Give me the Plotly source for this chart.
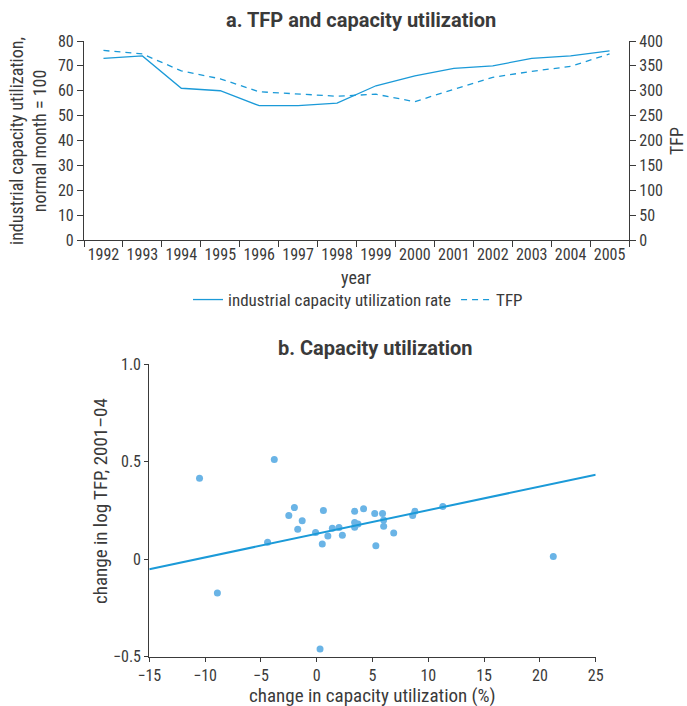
import plotly.graph_objects as go

# ---- panel a: yearly series ----
years = ["1992", "1993", "1994", "1995", "1996", "1997", "1998",
         "1999", "2000", "2001", "2002", "2003", "2004", "2005"]
capacity_util = [73, 74, 61, 60, 54, 54, 55, 62, 66, 69, 70, 73, 74, 76]
tfp = [381, 374, 340, 324, 298, 293, 289, 293, 278, 303, 327, 339, 349, 374]

# ---- panel b: cross-section scatter ----
cu_change = [-10.5, -8.9, -3.8, -4.4, -2.5, -2.0, -1.7, -1.3, -0.1, 0.3, 0.5,
             0.6, 1.0, 1.4, 2.0, 2.3, 3.4, 3.4, 3.4, 3.7, 4.2, 5.2, 5.3, 5.9,
             6.0, 6.0, 6.9, 8.6, 8.8, 11.3, 21.2]
tfp_change = [0.415, -0.173, 0.511, 0.087, 0.223, 0.264, 0.153, 0.197, 0.136,
              -0.46, 0.078, 0.249, 0.118, 0.158, 0.162, 0.123, 0.245, 0.188,
              0.164, 0.180, 0.258, 0.234, 0.068, 0.234, 0.200, 0.169, 0.134,
              0.224, 0.245, 0.270, 0.014]
fit_intercept = 0.130
fit_slope = 0.0121
fit_x = [-15, 25]

b_yticks = [-0.5, 0, 0.5, 1.0]
b_yticklabels = ["\u22120.5", "0", "0.5", "1.0"]

W, H = 687, 706
FONT = "Liberation Sans Narrow, Roboto Condensed, DejaVu Sans Condensed, Arial Narrow, sans-serif"
TITLE_FONT = "Roboto, Liberation Sans, sans-serif"
TXT = "#3a3a3a"
AX = "#3a3a3a"
LINE_BLUE = "#1b9ad8"
DOT_BLUE = "#6ab4e6"


def px_x(p):
    return p / W


def px_y(p):
    return 1 - p / H


fig = go.Figure()

fig.add_trace(go.Scatter(
    x=years, y=capacity_util, mode="lines", name="industrial capacity utilization rate",
    line=dict(color=LINE_BLUE, width=1.3), xaxis="x", yaxis="y"))
fig.add_trace(go.Scatter(
    x=years, y=tfp, mode="lines", name="TFP",
    line=dict(color=LINE_BLUE, width=1.3, dash="6px,5px"), xaxis="x", yaxis="y2"))

fig.add_trace(go.Scatter(
    x=cu_change, y=tfp_change, mode="markers", showlegend=False,
    marker=dict(color=DOT_BLUE, size=7), xaxis="x3", yaxis="y3"))
fig.add_trace(go.Scatter(
    x=fit_x, y=[fit_intercept + fit_slope * v for v in fit_x], mode="lines",
    showlegend=False, line=dict(color=LINE_BLUE, width=2), xaxis="x3", yaxis="y3"))


def axis_style(ticklen):
    return dict(showgrid=False, zeroline=False, showline=True, linecolor=AX,
                linewidth=1.2, ticks="outside", tickcolor=AX, ticklen=ticklen,
                automargin=False, tickangle=0,
                tickfont=dict(family=FONT, size=16, color=TXT))


fig.update_layout(
    width=W, height=H, margin=dict(l=0, r=0, t=0, b=0),
    paper_bgcolor="white", plot_bgcolor="white",
    font=dict(family=FONT, color=TXT),
    xaxis=dict(domain=[px_x(84), px_x(629)], anchor="y", type="category",
               tickson="boundaries", range=[-0.5, 13.5], **axis_style(6)),
    yaxis=dict(domain=[px_y(240), px_y(41)], anchor="x", range=[0, 80],
               dtick=10, **axis_style(6)),
    yaxis2=dict(domain=[px_y(240), px_y(41)], anchor="x", overlaying="y",
                side="right", range=[0, 400], dtick=50, **axis_style(6)),
    xaxis3=dict(domain=[px_x(149.3), px_x(595.7)], anchor="y3", range=[-15, 25],
                dtick=5, **axis_style(4)),
    yaxis3=dict(domain=[px_y(656.7), px_y(364)], anchor="x3", range=[-0.5, 1.0],
                tickvals=b_yticks, ticktext=b_yticklabels, **axis_style(4)),
    legend=dict(orientation="h", x=px_x(358), xanchor="center", y=px_y(300),
                yanchor="middle", font=dict(family=FONT, size=17, color=TXT),
                itemwidth=30, bgcolor="rgba(0,0,0,0)"),
    showlegend=True,
)

annotations = [
    dict(text="<b>a. TFP and capacity utilization</b>", x=px_x(361), y=px_y(20),
         font=dict(size=20, family=TITLE_FONT)),
    dict(text="<b>b. Capacity utilization</b>", x=px_x(375), y=px_y(348),
         font=dict(size=20, family=TITLE_FONT)),
    dict(text="industrial capacity utilization,<br>normal month = 100", x=px_x(28),
         y=px_y(141), textangle=-90, font=dict(size=18)),
    dict(text="TFP", x=px_x(676), y=px_y(141), textangle=-90, font=dict(size=18)),
    dict(text="year", x=px_x(356), y=px_y(277), font=dict(size=18)),
    dict(text="change in log TFP, 2001\u201304", x=px_x(100), y=px_y(501),
         textangle=-90, font=dict(size=19)),
    dict(text="change in capacity utilization (%)", x=px_x(372), y=px_y(695),
         font=dict(size=19)),
]
for a in annotations:
    a.update(xref="paper", yref="paper", showarrow=False, xanchor="center",
             yanchor="middle")
    a["font"].update(color=TXT)
    a["font"].setdefault("family", FONT)
fig.update_layout(annotations=annotations)

fig.write_html("out.html")
